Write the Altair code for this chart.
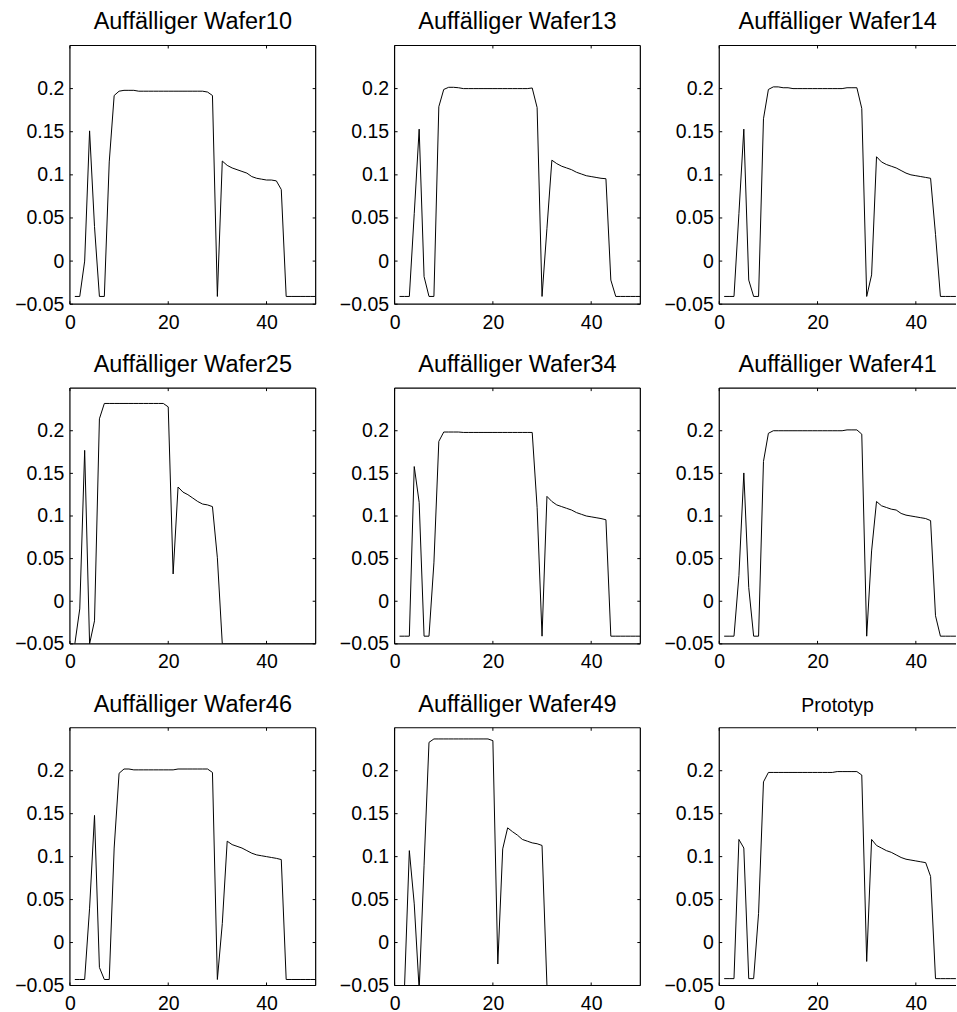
import altair as alt
import pandas as pd

# ---------------- data ----------------
x_index = list(range(1, 51))

titles = [
    "Auffälliger Wafer10", "Auffälliger Wafer13", "Auffälliger Wafer14",
    "Auffälliger Wafer25", "Auffälliger Wafer34", "Auffälliger Wafer41",
    "Auffälliger Wafer46", "Auffälliger Wafer49", "Prototyp",
]

wafer10 = [-0.041, -0.041, 0.0, 0.151, 0.04, -0.041, -0.041, 0.115, 0.192, 0.197,
           0.198, 0.198, 0.198, 0.197, 0.197, 0.197, 0.197, 0.197, 0.197, 0.197,
           0.197, 0.197, 0.197, 0.197, 0.197, 0.197, 0.197, 0.196, 0.192, -0.041,
           0.116, 0.111, 0.108, 0.106, 0.104, 0.102, 0.098, 0.096, 0.095, 0.094,
           0.094, 0.093, 0.083, -0.041, -0.041, -0.041, -0.041, -0.041, -0.041, -0.041]

wafer13 = [-0.041, -0.041, -0.041, 0.055, 0.153, -0.018, -0.041, -0.041, 0.179, 0.199,
           0.2015, 0.2015, 0.201, 0.2, 0.2, 0.2, 0.2, 0.2, 0.2, 0.2,
           0.2, 0.2, 0.2, 0.2, 0.2, 0.2, 0.2, 0.2007, 0.178, -0.041,
           0.038, 0.117, 0.113, 0.110, 0.108, 0.106, 0.103, 0.101, 0.099, 0.098,
           0.097, 0.096, 0.0955, -0.022, -0.041, -0.041, -0.041, -0.041, -0.041, -0.041]

wafer14 = [-0.041, -0.041, -0.041, 0.055, 0.153, -0.022, -0.041, -0.041, 0.165, 0.199,
           0.202, 0.202, 0.201, 0.201, 0.2, 0.2, 0.2, 0.2, 0.2, 0.2,
           0.2, 0.2, 0.2, 0.2, 0.2, 0.201, 0.201, 0.201, 0.177, -0.041,
           -0.016, 0.121, 0.115, 0.112, 0.110, 0.108, 0.105, 0.102, 0.100, 0.099,
           0.098, 0.097, 0.096, 0.031, -0.041, -0.041, -0.041, -0.041, -0.041, -0.041]

wafer25 = [-0.05, -0.009, 0.177, -0.05, -0.023, 0.214, 0.232, 0.232, 0.232, 0.232,
           0.232, 0.232, 0.232, 0.232, 0.232, 0.232, 0.232, 0.232, 0.232, 0.228,
           0.032, 0.134, 0.128, 0.125, 0.121, 0.117, 0.114, 0.113, 0.111, 0.051,
           -0.05, -0.05, -0.05, -0.05, -0.05, -0.05, -0.05, -0.05, -0.05, -0.05,
           -0.05, -0.05, -0.05, -0.05, -0.05, -0.05, -0.05, -0.05, -0.05, -0.05]

wafer34 = [-0.041, -0.041, -0.041, 0.158, 0.116, -0.041, -0.041, 0.045, 0.1875, 0.1985,
           0.1985, 0.1985, 0.1985, 0.198, 0.198, 0.198, 0.198, 0.198, 0.198, 0.198,
           0.198, 0.198, 0.198, 0.198, 0.198, 0.198, 0.198, 0.198, 0.110, -0.041,
           0.123, 0.117, 0.113, 0.111, 0.109, 0.107, 0.104, 0.102, 0.100, 0.099,
           0.098, 0.097, 0.0956, -0.041, -0.041, -0.041, -0.041, -0.041, -0.041, -0.041]

wafer41 = [-0.041, -0.041, -0.041, 0.030, 0.1505, 0.016, -0.041, -0.041, 0.164, 0.197,
           0.2, 0.2, 0.2, 0.2, 0.2, 0.2, 0.2, 0.2, 0.2, 0.2,
           0.2, 0.2, 0.2, 0.2, 0.2, 0.201, 0.201, 0.201, 0.196, -0.041,
           0.059, 0.117, 0.112, 0.110, 0.108, 0.107, 0.103, 0.101, 0.100, 0.099,
           0.098, 0.097, 0.0946, -0.017, -0.041, -0.041, -0.041, -0.041, -0.041, -0.041]

wafer46 = [-0.043, -0.043, -0.043, 0.04, 0.148, -0.029, -0.043, -0.043, 0.11, 0.197,
           0.202, 0.202, 0.201, 0.201, 0.201, 0.201, 0.201, 0.201, 0.201, 0.201,
           0.201, 0.202, 0.202, 0.202, 0.202, 0.202, 0.202, 0.202, 0.198, -0.043,
           0.022, 0.118, 0.114, 0.112, 0.110, 0.107, 0.104, 0.102, 0.101, 0.100,
           0.099, 0.098, 0.0966, -0.043, -0.043, -0.043, -0.043, -0.043, -0.043, -0.043]

wafer49 = [-0.06, -0.055, 0.107, 0.045, -0.055, 0.09, 0.233, 0.237, 0.237, 0.237,
           0.237, 0.237, 0.237, 0.237, 0.237, 0.237, 0.237, 0.237, 0.237, 0.235,
           -0.025, 0.109, 0.1335, 0.129, 0.125, 0.120, 0.118, 0.116, 0.115, 0.113,
           -0.05, -0.05, -0.05, -0.05, -0.05, -0.05, -0.05, -0.05, -0.05, -0.05,
           -0.05, -0.05, -0.05, -0.05, -0.05, -0.05, -0.05, -0.05, -0.05, -0.05]

prototyp = [-0.042, -0.042, -0.042, 0.120, 0.110, -0.042, -0.042, 0.034, 0.187, 0.198,
            0.198, 0.198, 0.198, 0.198, 0.198, 0.198, 0.198, 0.198, 0.198, 0.198,
            0.198, 0.198, 0.198, 0.199, 0.199, 0.199, 0.199, 0.199, 0.195, -0.022,
            0.120, 0.113, 0.110, 0.107, 0.105, 0.102, 0.099, 0.097, 0.096, 0.095,
            0.094, 0.093, 0.077, -0.042, -0.042, -0.042, -0.042, -0.042, -0.042, -0.042]

series = [wafer10, wafer13, wafer14, wafer25, wafer34, wafer41, wafer46, wafer49, prototyp]

x_ticks = [0, 20, 40]
y_ticks = [-0.05, 0, 0.05, 0.1, 0.15, 0.2]
x_domain = [0, 50]
y_domain = [-0.05, 0.25]

# ---------------- layout ----------------
FONT = "Liberation Sans"
COL_W = [246, 246, 237]          # last column is cut by the page edge
ROW_H = [259, 256, 258]
TICK = 3

AX_X = alt.Axis(values=x_ticks, title=None, ticks=False, tickSize=0, domain=False, grid=False,
                labelFont=FONT, labelFontSize=19.5, labelColor="black", labelPadding=9,
                labelFlush=False, labelOverlap=False)
AX_Y = alt.Axis(values=y_ticks, title=None, ticks=False, tickSize=0, domain=False, grid=False,
                format=".2~f", labelFont=FONT, labelFontSize=19.5, labelColor="black",
                labelPadding=6, labelFlush=False, labelOverlap=False)


def panel(title, values, w, h, last_col):
    xmax = x_domain[1] * w / 246.0 if last_col else x_domain[1]
    xs = alt.Scale(domain=[x_domain[0], xmax], nice=False, zero=False)
    ys = alt.Scale(domain=y_domain, nice=False, zero=False)
    df = pd.DataFrame({"x": x_index, "y": values})

    line = alt.Chart(df).mark_line(clip=True, color="black", strokeWidth=1).encode(
        x=alt.X("x:Q", scale=xs, axis=AX_X),
        y=alt.Y("y:Q", scale=ys, axis=AX_Y),
    )

    xt = pd.DataFrame({"x": x_ticks})
    yt = pd.DataFrame({"y": y_ticks})
    one = alt.Data(values=[{"k": 1}])

    layers = [line]
    # inward ticks
    layers.append(alt.Chart(xt).mark_rule(color="black", strokeWidth=1).encode(
        x=alt.X("x:Q", scale=xs, axis=AX_X), y=alt.value(h), y2=alt.value(h - TICK)))
    layers.append(alt.Chart(xt).mark_rule(color="black", strokeWidth=1).encode(
        x=alt.X("x:Q", scale=xs, axis=AX_X), y=alt.value(0), y2=alt.value(TICK)))
    layers.append(alt.Chart(yt).mark_rule(color="black", strokeWidth=1).encode(
        y=alt.Y("y:Q", scale=ys, axis=AX_Y), x=alt.value(0), x2=alt.value(TICK)))
    if not last_col:
        layers.append(alt.Chart(yt).mark_rule(color="black", strokeWidth=1).encode(
            y=alt.Y("y:Q", scale=ys, axis=AX_Y), x=alt.value(w - TICK), x2=alt.value(w)))
    # frame
    layers.append(alt.Chart(one).mark_rule(color="black", strokeWidth=1.2).encode(
        x=alt.value(0), y=alt.value(0), y2=alt.value(h)))
    layers.append(alt.Chart(one).mark_rule(color="black", strokeWidth=1.2).encode(
        x=alt.value(0), x2=alt.value(w), y=alt.value(0)))
    layers.append(alt.Chart(one).mark_rule(color="black", strokeWidth=1.2).encode(
        x=alt.value(0), x2=alt.value(w), y=alt.value(h)))
    if not last_col:
        layers.append(alt.Chart(one).mark_rule(color="black", strokeWidth=1.2).encode(
            x=alt.value(w), y=alt.value(0), y2=alt.value(h)))

    tsize = 19.5 if title == "Prototyp" else 23.5
    return alt.layer(*layers).properties(
        width=w, height=h,
        title=alt.TitleParams(title, font=FONT, fontSize=tsize, fontWeight="normal",
                              color="black", offset=11, anchor="middle"),
    )


panels = []
for i, (t, v) in enumerate(zip(titles, series)):
    r, c = divmod(i, 3)
    panels.append(panel(t, v, COL_W[c], ROW_H[r], c == 2))

chart = alt.concat(*panels, columns=3, spacing={"row": 84, "column": 79}, bounds="flush").properties(
    padding={"left": 14, "top": 9, "right": 0, "bottom": 0},
    background="white",
).configure_view(stroke=None)

chart.save("out.html", embed_options={"renderer": "svg", "actions": False})
